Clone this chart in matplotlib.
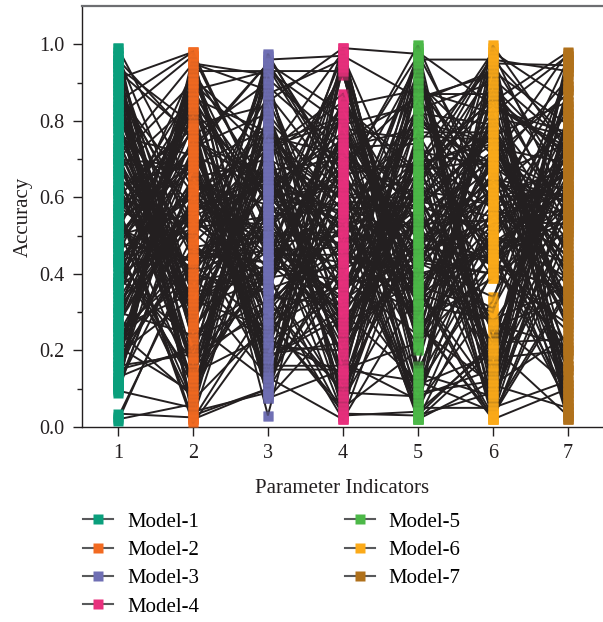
import numpy as np
import matplotlib
matplotlib.use("Agg")
import matplotlib.pyplot as plt
from matplotlib.lines import Line2D

plt.rcParams['font.family'] = ['Liberation Serif', 'DejaVu Serif']

indicators = [1, 2, 3, 4, 5, 6, 7]
model_names = ["Model-1", "Model-2", "Model-3", "Model-4", "Model-5", "Model-6", "Model-7"]
model_colors = ["#0a9f7c", "#f26a21", "#6f6fb4", "#e8307d", "#4cb848", "#fbaa19", "#b0711b"]
y_ticks = [0.0, 0.2, 0.4, 0.6, 0.8, 1.0]

model_1 = [0.99, 0.35, 0.72, 0.12, 0.58, 0.86, 0.27, 0.44, 0.93, 0.63,
           0.19, 0.51, 0.78, 0.035, 0.41, 0.67, 0.24, 0.95, 0.31, 0.83,
           0.47, 0.09, 0.70, 0.55, 0.16, 0.89, 0.38, 0.61, 0.22, 0.75,
           0.49, 0.97, 0.14, 0.66, 0.29, 0.81, 0.43, 0.53, 0.91, 0.20,
           0.69, 0.34, 0.015, 0.87, 0.57, 0.26, 0.74, 0.45, 0.11, 0.64,
           0.39, 0.84, 0.18, 0.52, 0.96, 0.30, 0.77, 0.42, 0.60, 0.23,
           0.88, 0.48, 0.13, 0.71, 0.36, 0.80, 0.54, 0.25, 0.94, 0.62,
           0.40, 0.17, 0.79, 0.46, 0.68, 0.28, 0.85, 0.50, 0.10, 0.73,
           0.33, 0.90, 0.56, 0.21, 0.65, 0.37, 0.82, 0.44, 0.15, 0.76,
           0.59, 0.32, 0.98, 0.53, 0.26, 0.70, 0.43, 0.62, 0.38, 0.48,
           0.10, 0.92, 0.27, 0.64, 0.81, 0.13, 0.46, 0.97, 0.36, 0.58,
           0.87, 0.21, 0.70, 0.025, 0.52, 0.94, 0.31, 0.66, 0.11, 0.78,
           0.42, 0.99, 0.17, 0.56, 0.90, 0.105, 0.73, 0.34, 0.62, 0.25,
           0.95, 0.48, 0.095, 0.69, 0.39, 0.85, 0.19, 0.57, 0.93, 0.30,
           0.12, 0.75, 0.54, 0.02, 0.88, 0.44, 0.67, 0.23, 0.96, 0.50,
           0.61, 0.115, 0.83, 0.37, 0.72, 0.16, 0.91, 0.47, 0.28, 0.80]
model_2 = [0.62, 0.88, 0.15, 0.97, 0.41, 0.23, 0.76, 0.55, 0.08, 0.69,
           0.34, 0.93, 0.47, 0.025, 0.81, 0.12, 0.59, 0.28, 0.72, 0.44,
           0.06, 0.66, 0.37, 0.85, 0.19, 0.52, 0.91, 0.30, 0.63, 0.48,
           0.74, 0.22, 0.57, 0.40, 0.83, 0.10, 0.68, 0.35, 0.98, 0.53,
           0.27, 0.79, 0.45, 0.61, 0.01, 0.71, 0.38, 0.86, 0.50, 0.17,
           0.64, 0.32, 0.90, 0.43, 0.75, 0.24, 0.58, 0.13, 0.80, 0.46,
           0.36, 0.70, 0.21, 0.95, 0.54, 0.29, 0.67, 0.42, 0.04, 0.78,
           0.51, 0.87, 0.26, 0.60, 0.39, 0.73, 0.18, 0.56, 0.92, 0.33,
           0.65, 0.45, 0.77, 0.09, 0.49, 0.84, 0.31, 0.62, 0.20, 0.71,
           0.40, 0.57, 0.14, 0.82, 0.35, 0.68, 0.52, 0.27, 0.75, 0.44,
           0.93, 0.04, 0.58, 0.33, 0.97, 0.72, 0.11, 0.49, 0.86, 0.02,
           0.26, 0.64, 0.90, 0.43, 0.07, 0.79, 0.55, 0.18, 0.96, 0.38,
           0.70, 0.13, 0.47, 0.88, 0.03, 0.61, 0.29, 0.94, 0.52, 0.08,
           0.36, 0.83, 0.05, 0.67, 0.23, 0.98, 0.44, 0.12, 0.76, 0.59,
           0.91, 0.31, 0.69, 0.06, 0.54, 0.17, 0.85, 0.40, 0.02, 0.73,
           0.48, 0.95, 0.25, 0.63, 0.10, 0.89, 0.34, 0.78, 0.57, 0.15]
model_3 = [0.45, 0.18, 0.82, 0.57, 0.71, 0.33, 0.09, 0.64, 0.50, 0.27,
           0.76, 0.93, 0.39, 0.62, 0.22, 0.87, 0.48, 0.68, 0.36, 0.55,
           0.80, 0.41, 0.13, 0.59, 0.30, 0.73, 0.47, 0.975, 0.24, 0.66,
           0.15, 0.52, 0.78, 0.35, 0.61, 0.44, 0.20, 0.85, 0.57, 0.38,
           0.69, 0.03, 0.49, 0.74, 0.28, 0.62, 0.42, 0.54, 0.90, 0.32,
           0.58, 0.46, 0.71, 0.25, 0.65, 0.37, 0.51, 0.80, 0.075, 0.43,
           0.63, 0.29, 0.56, 0.88, 0.40, 0.68, 0.17, 0.53, 0.76, 0.45,
           0.34, 0.60, 0.48, 0.72, 0.21, 0.95, 0.39, 0.66, 0.52, 0.26,
           0.70, 0.43, 0.11, 0.57, 0.83, 0.31, 0.64, 0.47, 0.74, 0.36,
           0.50, 0.67, 0.24, 0.59, 0.41, 0.78, 0.55, 0.12, 0.62, 0.46,
           0.62, 0.09, 0.86, 0.41, 0.23, 0.95, 0.54, 0.14, 0.77, 0.33,
           0.91, 0.48, 0.08, 0.69, 0.27, 0.84, 0.37, 0.60, 0.12, 0.96,
           0.19, 0.73, 0.50, 0.93, 0.10, 0.44, 0.81, 0.30, 0.65, 0.89,
           0.56, 0.16, 0.97, 0.35, 0.79, 0.085, 0.61, 0.42, 0.90, 0.22,
           0.74, 0.39, 0.13, 0.87, 0.53, 0.94, 0.28, 0.67, 0.10, 0.82,
           0.31, 0.92, 0.58, 0.18, 0.71, 0.46, 0.95, 0.075, 0.63, 0.40]
model_4 = [0.72, 0.31, 0.56, 0.14, 0.85, 0.47, 0.66, 0.23, 0.97, 0.40,
           0.59, 0.93, 0.08, 0.77, 0.35, 0.62, 0.19, 0.51, 0.83, 0.28,
           0.44, 0.70, 0.02, 0.58, 0.37, 0.80, 0.25, 0.64, 0.49, 0.12,
           0.15, 0.68, 0.41, 0.86, 0.54, 0.30, 0.75, 0.99, 0.21, 0.60,
           0.46, 0.79, 0.33, 0.57, 0.05, 0.73, 0.38, 0.65, 0.26, 0.52,
           0.84, 0.43, 0.17, 0.69, 0.35, 0.95, 0.48, 0.61, 0.29, 0.76,
           0.53, 0.10, 0.66, 0.40, 0.82, 0.24, 0.58, 0.035, 0.71, 0.45,
           0.32, 0.63, 0.50, 0.87, 0.20, 0.67, 0.42, 0.55, 0.74, 0.37,
           0.60, 0.27, 0.78, 0.47, 0.13, 0.69, 0.56, 0.34, 0.81, 0.43,
           0.51, 0.22, 0.64, 0.39, 0.73, 0.07, 0.57, 0.45, 0.92, 0.31,
           0.05, 0.96, 0.38, 0.63, 0.14, 0.82, 0.27, 0.98, 0.51, 0.09,
           0.74, 0.33, 0.94, 0.18, 0.57, 0.03, 0.85, 0.44, 0.68, 0.97,
           0.22, 0.60, 0.11, 0.79, 0.40, 0.95, 0.06, 0.53, 0.30, 0.72,
           0.93, 0.16, 0.66, 0.02, 0.48, 0.84, 0.36, 0.99, 0.25, 0.59,
           0.08, 0.77, 0.42, 0.96, 0.19, 0.62, 0.04, 0.70, 0.94, 0.34,
           0.55, 0.12, 0.81, 0.29, 0.98, 0.47, 0.64, 0.15, 0.75, 0.03]
model_5 = [0.38, 0.64, 0.21, 0.77, 0.52, 0.09, 0.69, 0.43, 0.86, 0.30,
           0.57, 0.14, 0.73, 0.46, 0.61, 0.25, 0.90, 0.35, 0.66, 0.50,
           0.80, 0.27, 0.56, 0.04, 0.71, 0.41, 0.62, 0.33, 0.95, 0.48,
           0.22, 0.68, 0.53, 0.36, 0.79, 0.12, 0.59, 0.975, 0.44, 0.65,
           0.31, 0.84, 0.47, 0.58, 0.20, 0.74, 0.39, 0.997, 0.55, 0.28,
           0.67, 0.42, 0.07, 0.61, 0.88, 0.34, 0.54, 0.76, 0.45, 0.23,
           0.70, 0.51, 0.37, 0.82, 0.15, 0.63, 0.48, 0.03, 0.58, 0.40,
           0.92, 0.26, 0.66, 0.43, 0.72, 0.32, 0.57, 0.83, 0.49, 0.11,
           0.60, 0.38, 0.75, 0.29, 0.54, 0.87, 0.45, 0.67, 0.02, 0.62,
           0.35, 0.71, 0.50, 0.24, 0.78, 0.42, 0.58, 0.64, 0.33, 0.47,
           0.94, 0.13, 0.56, 0.04, 0.81, 0.37, 0.98, 0.26, 0.69, 0.08,
           0.45, 0.91, 0.22, 0.63, 0.02, 0.77, 0.32, 0.96, 0.11, 0.52,
           0.85, 0.06, 0.71, 0.40, 0.93, 0.16, 0.59, 0.03, 0.80, 0.29,
           0.10, 0.67, 0.97, 0.35, 0.05, 0.88, 0.48, 0.21, 0.74, 0.95,
           0.57, 0.02, 0.83, 0.27, 0.64, 0.09, 0.99, 0.43, 0.14, 0.70,
           0.36, 0.90, 0.06, 0.60, 0.25, 0.97, 0.51, 0.12, 0.86, 0.04]
model_6 = [0.55, 0.26, 0.83, 0.41, 0.68, 0.12, 0.74, 0.34, 0.59, 0.90,
           0.20, 0.63, 0.46, 0.78, 0.05, 0.52, 0.71, 0.28, 0.86, 0.44,
           0.67, 0.39, 0.16, 0.95, 0.57, 0.31, 0.80, 0.48, 0.23, 0.65,
           0.42, 0.76, 0.54, 0.09, 0.69, 0.47, 0.82, 0.61, 0.40, 0.27,
           0.73, 0.50, 0.62, 0.18, 0.88, 0.44, 0.997, 0.56, 0.70, 0.02,
           0.39, 0.81, 0.58, 0.25, 0.66, 0.49, 0.14, 0.75, 0.53, 0.91,
           0.43, 0.64, 0.30, 0.79, 0.51, 0.97, 0.60, 0.22, 0.72, 0.45,
           0.57, 0.11, 0.84, 0.40, 0.68, 0.53, 0.77, 0.46, 0.62, 0.19,
           0.74, 0.48, 0.03, 0.63, 0.42, 0.87, 0.55, 0.70, 0.41, 0.58,
           0.66, 0.45, 0.79, 0.52, 0.07, 0.61, 0.50, 0.93, 0.71, 0.44,
           0.08, 0.72, 0.95, 0.21, 0.60, 0.03, 0.84, 0.45, 0.98, 0.15,
           0.66, 0.04, 0.51, 0.89, 0.12, 0.77, 0.28, 0.96, 0.40, 0.06,
           0.93, 0.33, 0.02, 0.69, 0.18, 0.87, 0.55, 0.09, 0.74, 0.99,
           0.43, 0.97, 0.13, 0.58, 0.05, 0.82, 0.22, 0.64, 0.94, 0.10,
           0.76, 0.20, 0.90, 0.03, 0.47, 0.98, 0.16, 0.68, 0.08, 0.85,
           0.02, 0.59, 0.96, 0.27, 0.81, 0.11, 0.71, 0.04, 0.92, 0.49]
model_7 = [0.61, 0.34, 0.77, 0.22, 0.55, 0.89, 0.40, 0.68, 0.15, 0.52,
           0.73, 0.28, 0.64, 0.46, 0.82, 0.09, 0.58, 0.37, 0.71, 0.25,
           0.44, 0.79, 0.56, 0.945, 0.31, 0.66, 0.50, 0.18, 0.75, 0.60,
           0.36, 0.85, 0.53, 0.70, 0.26, 0.62, 0.04, 0.48, 0.93, 0.57,
           0.69, 0.39, 0.78, 0.20, 0.65, 0.54, 0.72, 0.33, 0.978, 0.47,
           0.58, 0.76, 0.11, 0.63, 0.41, 0.83, 0.52, 0.29, 0.67, 0.74,
           0.35, 0.59, 0.88, 0.45, 0.70, 0.02, 0.61, 0.80, 0.38, 0.55,
           0.66, 0.24, 0.73, 0.51, 0.91, 0.57, 0.32, 0.68, 0.13, 0.76,
           0.42, 0.62, 0.81, 0.27, 0.71, 0.55, 0.96, 0.49, 0.64, 0.37,
           0.74, 0.58, 0.30, 0.84, 0.53, 0.67, 0.43, 0.79, 0.61, 0.06,
           0.96, 0.15, 0.63, 0.03, 0.89, 0.35, 0.72, 0.08, 0.57, 0.94,
           0.20, 0.82, 0.05, 0.69, 0.97, 0.39, 0.11, 0.75, 0.27, 0.60,
           0.04, 0.92, 0.51, 0.16, 0.78, 0.02, 0.66, 0.95, 0.33, 0.07,
           0.71, 0.09, 0.88, 0.45, 0.12, 0.97, 0.23, 0.54, 0.03, 0.81,
           0.30, 0.94, 0.06, 0.62, 0.19, 0.85, 0.41, 0.02, 0.76, 0.98,
           0.10, 0.68, 0.93, 0.21, 0.56, 0.05, 0.87, 0.36, 0.16, 0.73]

models = [model_1, model_2, model_3, model_4, model_5, model_6, model_7]
table = np.array(models).T  # rows = samples, columns = indicators

W, H = 603, 622
fig = plt.figure(figsize=(W / 100, H / 100), dpi=100)
ax = fig.add_axes([82 / W, (H - 427) / H, (603 - 82) / W, (427 - 6) / H])

# connecting lines
for row in table:
    ax.plot(indicators, row, color="#231f20", lw=1.4, zorder=2, solid_joinstyle="miter")

# markers per model
for k, (vals, c) in enumerate(zip(models, model_colors)):
    if k in (0, 6):
        ax.plot([indicators[k]] * len(vals), vals, linestyle="none", marker="s",
                ms=6.5, color=c, mec="none", zorder=3)
    else:
        ax.plot([indicators[k]] * len(vals), vals, linestyle="none", marker="s",
                ms=6.5, color=c, mec="none", zorder=1)
        ax.plot([indicators[k]] * len(vals), vals, linestyle="none", marker="s",
                ms=6.5, color=c, mec="none", zorder=3, alpha=0.55)

ax.set_xlim(0.52, 7.47)
ax.set_ylim(0, 1.1)
ax.set_xticks(indicators)
ax.set_yticks(y_ticks)
ax.set_yticks([0.1, 0.3, 0.5, 0.7, 0.9], minor=True)
ax.set_yticklabels([f"{v:.1f}" for v in y_ticks])
ax.tick_params(axis="both", which="major", direction="out", length=6.5, width=1.0,
               labelsize=14.5, color="#231f20", labelcolor="#231f20")
ax.tick_params(axis="y", which="major", pad=6)
ax.tick_params(axis="x", which="major", pad=6)
ax.tick_params(axis="y", which="minor", direction="out", length=3.5, width=1.0, color="#231f20")

for s in ("left", "bottom"):
    ax.spines[s].set_color("#231f20")
    ax.spines[s].set_linewidth(1.0)
ax.spines["top"].set_color("#6d6e71")
ax.spines["top"].set_linewidth(1.6)
ax.spines["right"].set_visible(False)

ax.set_xlabel("Parameter Indicators", fontsize=15, color="#231f20", labelpad=11)
ax.set_ylabel("Accuracy", fontsize=15, color="#231f20", labelpad=5)

handles = [Line2D([0], [0], color="#58595b", lw=1.5, marker="s", ms=7,
                  markerfacecolor=c, markeredgecolor="none") for c in model_colors]
fig.legend(handles, model_names, loc="upper left", bbox_to_anchor=(83 / W, 1 - 512 / H),
           ncol=2, frameon=False, fontsize=15, handlelength=1.44, handletextpad=0.67,
           labelspacing=0.42, columnspacing=7.0, borderpad=0, borderaxespad=0)

fig.savefig("out.png", dpi=100)
